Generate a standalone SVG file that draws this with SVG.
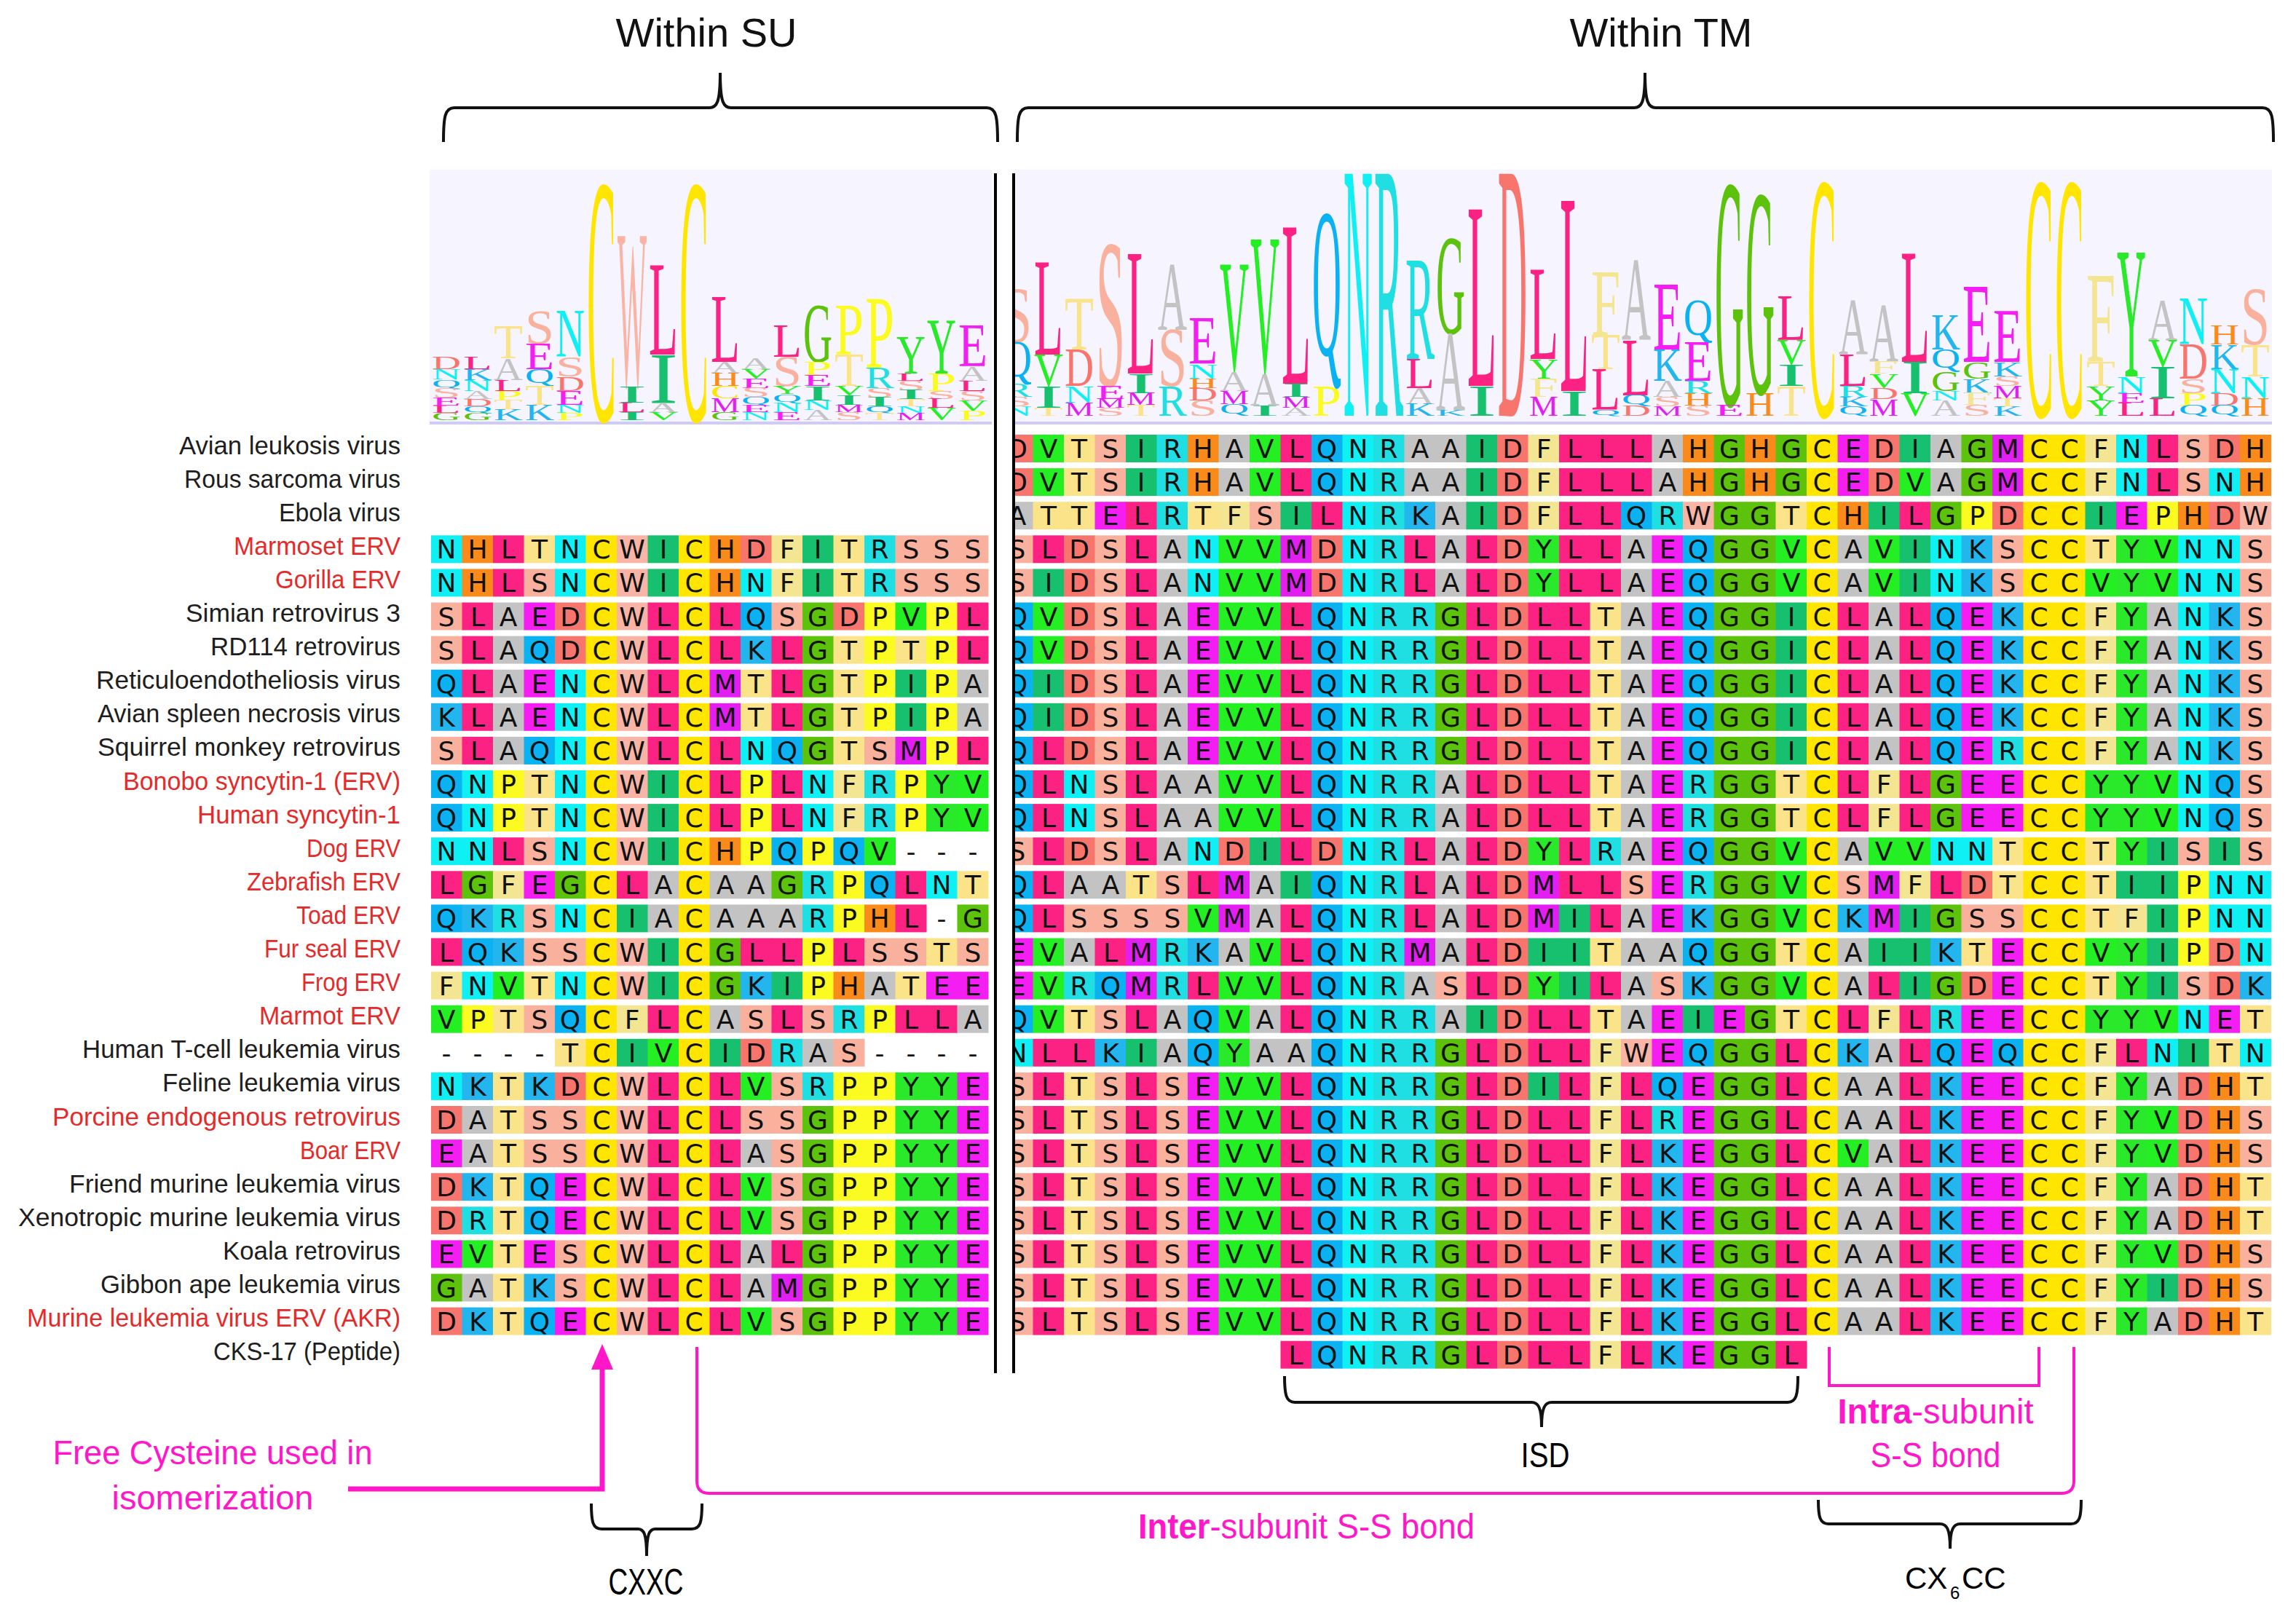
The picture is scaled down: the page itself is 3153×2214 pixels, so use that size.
<svg xmlns="http://www.w3.org/2000/svg" width="3153" height="2214" viewBox="0 0 3153 2214">
<style>
text{font-family:"Liberation Sans",Arial,sans-serif}
.lb{font-size:35px;fill:#1e1e1e;text-anchor:end}
.red{fill:#e52a2a}
.tt{font-size:56px;fill:#111;text-anchor:middle}
.sq{font-family:"DejaVu Sans","Open Sans",sans-serif;font-size:36px;fill:#111;text-anchor:middle}
.c rect{width:43px;height:38px}
.c rect:nth-of-type(2){x:42.5px}.c rect:nth-of-type(3){x:85px}.c rect:nth-of-type(4){x:127.5px}.c rect:nth-of-type(5){x:170px}
.c rect:nth-of-type(6){x:212.5px}.c rect:nth-of-type(7){x:255px}.c rect:nth-of-type(8){x:297.5px}.c rect:nth-of-type(9){x:340px}
.c rect:nth-of-type(10){x:382.5px}.c rect:nth-of-type(11){x:425px}.c rect:nth-of-type(12){x:467.5px}.c rect:nth-of-type(13){x:510px}
.c rect:nth-of-type(14){x:552.5px}.c rect:nth-of-type(15){x:595px}.c rect:nth-of-type(16){x:637.5px}.c rect:nth-of-type(17){x:680px}
.c rect:nth-of-type(18){x:722.5px}.c rect:nth-of-type(19){x:765px}.c rect:nth-of-type(20){x:807.5px}.c rect:nth-of-type(21){x:850px}
.c rect:nth-of-type(22){x:892.5px}.c rect:nth-of-type(23){x:935px}.c rect:nth-of-type(24){x:977.5px}.c rect:nth-of-type(25){x:1020px}
.c rect:nth-of-type(26){x:1062.5px}.c rect:nth-of-type(27){x:1105px}.c rect:nth-of-type(28){x:1147.5px}.c rect:nth-of-type(29){x:1190px}
.c rect:nth-of-type(30){x:1232.5px}.c rect:nth-of-type(31){x:1275px}.c rect:nth-of-type(32){x:1317.5px}.c rect:nth-of-type(33){x:1360px}
.c rect:nth-of-type(34){x:1402.5px}.c rect:nth-of-type(35){x:1445px}.c rect:nth-of-type(36){x:1487.5px}.c rect:nth-of-type(37){x:1530px}
.c rect:nth-of-type(38){x:1572.5px}.c rect:nth-of-type(39){x:1615px}.c rect:nth-of-type(40){x:1657.5px}.c rect:nth-of-type(41){x:1700px}
.A{fill:#c3c3c3}.C{fill:#ffe500}.D{fill:#f8756e}.E{fill:#f51ef2}.F{fill:#f3e592}.G{fill:#5cc20c}.H{fill:#fa8a1a}
.I{fill:#17c06f}.K{fill:#23b5ee}.L{fill:#fb2283}.M{fill:#e21ef0}.N{fill:#0ff0f4}.P{fill:#fbfb22}.Q{fill:#0bb2f2}
.R{fill:#20dfe2}.S{fill:#f9b19e}.T{fill:#fbe389}.V{fill:#23ef23}.W{fill:#f9b4a5}.Y{fill:#2ae82a}.z{fill:none}
.lg text{font-family:"Liberation Serif",serif;font-size:151px;text-anchor:middle}
.pk{fill:#ff17c9}
.br{fill:none;stroke:#111;stroke-width:4}
.pl{fill:none;stroke:#ff17c9}
</style>
<rect width="3153" height="2214" fill="#fff"/>
<g id="titles">
<text class="tt" x="970" y="64">Within SU</text>
<text class="tt" x="2281" y="64">Within TM</text>
</g>
<g id="logo-bg">
<rect x="590" y="233" width="772" height="347" fill="#f6f4fe"/>
<rect x="1393" y="233" width="1727" height="347" fill="#f6f4fe"/>
<rect x="590" y="579" width="772" height="4" fill="#cfcaf7"/>
<rect x="1393" y="579" width="1727" height="4" fill="#cfcaf7"/>
</g>
<g id="logo-su" class="lg">
<text class="D" transform="matrix(.367 0 0 .17 613 507)">D</text><text class="N" transform="matrix(.367 0 0 .14 613 521)">N</text><text class="Q" transform="matrix(.367 0 0 .1 613 532)">Q</text><text class="S" transform="matrix(.476 0 0 .12 613 546)">S</text><text class="E" transform="matrix(.433 0 0 .11 613 557)">E</text><text class="L" transform="matrix(.433 0 0 .1 613 567)">L</text><text class="G" transform="matrix(.367 0 0 .1 613 577)">G</text>
<text class="L" transform="matrix(.433 0 0 .17 656 507)">L</text><text class="K" transform="matrix(.367 0 0 .15 656 522)">K</text><text class="N" transform="matrix(.367 0 0 .15 656 537)">N</text><text class="A" transform="matrix(.367 0 0 .11 656 548)">A</text><text class="D" transform="matrix(.367 0 0 .1 656 558)">D</text><text class="Q" transform="matrix(.367 0 0 .08 656 566)">Q</text><text class="G" transform="matrix(.367 0 0 .09 656 577)">G</text>
<text class="T" transform="matrix(.433 0 0 .45 698 492)">T</text><text class="A" transform="matrix(.367 0 0 .3 698 522)">A</text><text class="L" transform="matrix(.433 0 0 .15 698 537)">L</text><text class="P" transform="matrix(.476 0 0 .13 698 550)">P</text><text class="T" transform="matrix(.433 0 0 .12 698 562)">T</text><text class="K" transform="matrix(.367 0 0 .15 698 577)">K</text>
<text class="S" transform="matrix(.476 0 0 .45 741 472)">S</text><text class="E" transform="matrix(.433 0 0 .35 741 507)">E</text><text class="Q" transform="matrix(.367 0 0 .19 741 526)">Q</text><text class="T" transform="matrix(.433 0 0 .26 741 556)">T</text><text class="K" transform="matrix(.367 0 0 .21 741 577)">K</text>
<text class="N" transform="matrix(.367 0 0 .63 783 490)">N</text><text class="S" transform="matrix(.476 0 0 .27 783 517)">S</text><text class="D" transform="matrix(.367 0 0 .2 783 537)">D</text><text class="E" transform="matrix(.433 0 0 .19 783 556)">E</text><text class="N" transform="matrix(.367 0 0 .11 783 567)">N</text><text class="P" transform="matrix(.476 0 0 .1 783 577)">P</text>
<text class="C" transform="matrix(.397 0 0 3.24 826 577)">C</text>
<text class="W" transform="matrix(.281 0 0 2.08 868 530)">W</text><text class="I" transform="matrix(.795 0 0 .23 868 553)">I</text><text class="L" transform="matrix(.433 0 0 .13 868 566)">L</text><text class="I" transform="matrix(.795 0 0 .11 868 577)">I</text>
<text class="L" transform="matrix(.433 0 0 1.24 911 487)">L</text><text class="I" transform="matrix(.795 0 0 .66 911 553)">I</text><text class="A" transform="matrix(.367 0 0 .13 911 566)">A</text><text class="V" transform="matrix(.367 0 0 .11 911 577)">V</text>
<text class="C" transform="matrix(.397 0 0 3.24 953 577)">C</text>
<text class="L" transform="matrix(.433 0 0 .9 996 497)">L</text><text class="A" transform="matrix(.367 0 0 .15 996 512)">A</text><text class="H" transform="matrix(.367 0 0 .18 996 530)">H</text><text class="C" transform="matrix(.397 0 0 .17 996 547)">C</text><text class="M" transform="matrix(.298 0 0 .19 996 566)">M</text><text class="G" transform="matrix(.367 0 0 .11 996 577)">G</text>
<text class="A" transform="matrix(.367 0 0 .15 1038 507)">A</text><text class="V" transform="matrix(.367 0 0 .13 1038 520)">V</text><text class="E" transform="matrix(.433 0 0 .13 1038 533)">E</text><text class="S" transform="matrix(.476 0 0 .12 1038 545)">S</text><text class="Q" transform="matrix(.367 0 0 .09 1038 555)">Q</text><text class="E" transform="matrix(.433 0 0 .1 1038 566)">E</text><text class="N" transform="matrix(.367 0 0 .11 1038 577)">N</text>
<text class="L" transform="matrix(.433 0 0 .43 1081 490)">L</text><text class="S" transform="matrix(.476 0 0 .4 1081 530)">S</text><text class="Y" transform="matrix(.367 0 0 .11 1081 541)">Y</text><text class="Q" transform="matrix(.367 0 0 .1 1081 552)">Q</text><text class="N" transform="matrix(.367 0 0 .13 1081 566)">N</text><text class="E" transform="matrix(.433 0 0 .11 1081 577)">E</text>
<text class="G" transform="matrix(.367 0 0 .77 1123 497)">G</text><text class="P" transform="matrix(.476 0 0 .18 1123 515)">P</text><text class="E" transform="matrix(.433 0 0 .15 1123 530)">E</text><text class="I" transform="matrix(.795 0 0 .2 1123 550)">I</text><text class="N" transform="matrix(.367 0 0 .13 1123 563)">N</text><text class="A" transform="matrix(.367 0 0 .14 1123 577)">A</text>
<text class="P" transform="matrix(.476 0 0 .67 1166 487)">P</text><text class="T" transform="matrix(.433 0 0 .43 1166 530)">T</text><text class="V" transform="matrix(.367 0 0 .13 1166 543)">V</text><text class="I" transform="matrix(.795 0 0 .13 1166 556)">I</text><text class="M" transform="matrix(.298 0 0 .1 1166 566)">M</text><text class="S" transform="matrix(.476 0 0 .11 1166 577)">S</text>
<text class="P" transform="matrix(.476 0 0 .95 1208 505)">P</text><text class="R" transform="matrix(.397 0 0 .28 1208 533)">R</text><text class="S" transform="matrix(.476 0 0 .13 1208 546)">S</text><text class="I" transform="matrix(.795 0 0 .12 1208 558)">I</text><text class="Q" transform="matrix(.367 0 0 .08 1208 566)">Q</text><text class="T" transform="matrix(.433 0 0 .09 1208 577)">T</text>
<text class="Y" transform="matrix(.367 0 0 .5 1251 513)">Y</text><text class="L" transform="matrix(.433 0 0 .1 1251 523)">L</text><text class="S" transform="matrix(.476 0 0 .13 1251 536)">S</text><text class="I" transform="matrix(.795 0 0 .12 1251 548)">I</text><text class="T" transform="matrix(.433 0 0 .1 1251 558)">T</text><text class="N" transform="matrix(.367 0 0 .1 1251 568)">N</text><text class="M" transform="matrix(.298 0 0 .09 1251 577)">M</text>
<text class="Y" transform="matrix(.367 0 0 .73 1293 513)">Y</text><text class="P" transform="matrix(.476 0 0 .24 1293 537)">P</text><text class="S" transform="matrix(.476 0 0 .11 1293 548)">S</text><text class="L" transform="matrix(.433 0 0 .12 1293 560)">L</text><text class="V" transform="matrix(.367 0 0 .17 1293 577)">V</text>
<text class="E" transform="matrix(.433 0 0 .56 1336 503)">E</text><text class="A" transform="matrix(.367 0 0 .2 1336 523)">A</text><text class="L" transform="matrix(.433 0 0 .14 1336 537)">L</text><text class="S" transform="matrix(.476 0 0 .13 1336 550)">S</text><text class="V" transform="matrix(.367 0 0 .15 1336 565)">V</text><text class="P" transform="matrix(.476 0 0 .12 1336 577)">P</text>
</g>
<g id="logo-tm" class="lg">
<text class="S" transform="matrix(.476 0 0 .73 1397 470)">S</text><text class="Q" transform="matrix(.367 0 0 .47 1397 517)">Q</text><text class="R" transform="matrix(.397 0 0 .18 1397 545)">R</text><text class="S" transform="matrix(.476 0 0 .13 1397 558)">S</text><text class="N" transform="matrix(.367 0 0 .13 1397 571)">N</text>
<text class="L" transform="matrix(.433 0 0 1.27 1440 487)">L</text><text class="V" transform="matrix(.367 0 0 .43 1440 530)">V</text><text class="I" transform="matrix(.795 0 0 .3 1440 560)">I</text><text class="T" transform="matrix(.433 0 0 .11 1440 571)">T</text>
<text class="T" transform="matrix(.433 0 0 .7 1482 480)">T</text><text class="D" transform="matrix(.367 0 0 .5 1482 530)">D</text><text class="N" transform="matrix(.367 0 0 .23 1482 553)">N</text><text class="M" transform="matrix(.298 0 0 .18 1482 571)">M</text>
<text class="S" transform="matrix(.476 0 0 1.95 1525 530)">S</text><text class="E" transform="matrix(.433 0 0 .18 1525 548)">E</text><text class="M" transform="matrix(.298 0 0 .12 1525 560)">M</text><text class="S" transform="matrix(.476 0 0 .11 1525 571)">S</text>
<text class="L" transform="matrix(.433 0 0 1.65 1567 513)">L</text><text class="I" transform="matrix(.795 0 0 .27 1567 540)">I</text><text class="M" transform="matrix(.298 0 0 .16 1567 556)">M</text><text class="T" transform="matrix(.433 0 0 .15 1567 571)">T</text>
<text class="A" transform="matrix(.367 0 0 .9 1610 453)">A</text><text class="S" transform="matrix(.476 0 0 .77 1610 530)">S</text><text class="R" transform="matrix(.397 0 0 .41 1610 571)">R</text>
<text class="E" transform="matrix(.433 0 0 .63 1652 500)">E</text><text class="N" transform="matrix(.367 0 0 .2 1652 520)">N</text><text class="H" transform="matrix(.367 0 0 .13 1652 533)">H</text><text class="D" transform="matrix(.367 0 0 .17 1652 550)">D</text><text class="S" transform="matrix(.476 0 0 .21 1652 571)">S</text>
<text class="V" transform="matrix(.367 0 0 1.47 1695 510)">V</text><text class="A" transform="matrix(.367 0 0 .27 1695 537)">A</text><text class="M" transform="matrix(.298 0 0 .18 1695 555)">M</text><text class="Q" transform="matrix(.367 0 0 .13 1695 568)">Q</text>
<text class="V" transform="matrix(.367 0 0 1.86 1737 513)">V</text><text class="A" transform="matrix(.367 0 0 .44 1737 557)">A</text><text class="I" transform="matrix(.795 0 0 .14 1737 571)">I</text>
<text class="L" transform="matrix(.433 0 0 2.17 1780 527)">L</text><text class="I" transform="matrix(.795 0 0 .18 1780 545)">I</text><text class="M" transform="matrix(.298 0 0 .15 1780 560)">M</text><text class="A" transform="matrix(.367 0 0 .11 1780 571)">A</text>
<text class="Q" transform="matrix(.367 0 0 1.94 1822 487)">Q</text><text class="P" transform="matrix(.476 0 0 .41 1822 571)">P</text>
<text class="N" transform="matrix(.367 0 0 3.36 1865 571)">N</text>
<text class="R" transform="matrix(.397 0 0 3.36 1907 571)">R</text>
<text class="R" transform="matrix(.397 0 0 1.36 1950 493)">R</text><text class="L" transform="matrix(.433 0 0 .4 1950 533)">L</text><text class="A" transform="matrix(.367 0 0 .22 1950 555)">A</text><text class="K" transform="matrix(.367 0 0 .16 1950 571)">K</text>
<text class="G" transform="matrix(.367 0 0 1.3 1992 458)">G</text><text class="A" transform="matrix(.367 0 0 1.05 1992 563)">A</text><text class="K" transform="matrix(.367 0 0 .08 1992 571)">K</text>
<text class="L" transform="matrix(.433 0 0 2.45 2035 530)">L</text><text class="I" transform="matrix(.795 0 0 .41 2035 571)">I</text>
<text class="D" transform="matrix(.367 0 0 3.36 2077 571)">D</text>
<text class="L" transform="matrix(.433 0 0 1.23 2120 493)">L</text><text class="Y" transform="matrix(.367 0 0 .27 2120 520)">Y</text><text class="F" transform="matrix(.476 0 0 .25 2120 545)">F</text><text class="M" transform="matrix(.298 0 0 .26 2120 571)">M</text>
<text class="L" transform="matrix(.433 0 0 2.64 2162 537)">L</text><text class="I" transform="matrix(.795 0 0 .34 2162 571)">I</text>
<text class="F" transform="matrix(.476 0 0 .87 2205 460)">F</text><text class="T" transform="matrix(.433 0 0 .47 2205 507)">T</text><text class="L" transform="matrix(.433 0 0 .56 2205 563)">L</text><text class="Q" transform="matrix(.367 0 0 .07 2205 570)">Q</text>
<text class="A" transform="matrix(.367 0 0 1.1 2247 467)">A</text><text class="L" transform="matrix(.433 0 0 .76 2247 543)">L</text><text class="Q" transform="matrix(.367 0 0 .12 2247 555)">Q</text><text class="D" transform="matrix(.367 0 0 .14 2247 571)">D</text>
<text class="E" transform="matrix(.433 0 0 .9 2290 480)">E</text><text class="K" transform="matrix(.367 0 0 .43 2290 523)">K</text><text class="A" transform="matrix(.367 0 0 .22 2290 545)">A</text><text class="S" transform="matrix(.476 0 0 .13 2290 558)">S</text><text class="M" transform="matrix(.298 0 0 .13 2290 571)">M</text>
<text class="Q" transform="matrix(.367 0 0 .47 2332 460)">Q</text><text class="E" transform="matrix(.433 0 0 .53 2332 523)">E</text><text class="R" transform="matrix(.397 0 0 .17 2332 540)">R</text><text class="H" transform="matrix(.367 0 0 .17 2332 557)">H</text><text class="S" transform="matrix(.476 0 0 .14 2332 571)">S</text>
<text class="G" transform="matrix(.367 0 0 3.03 2375 556)">G</text><text class="E" transform="matrix(.433 0 0 .15 2375 571)">E</text>
<text class="G" transform="matrix(.367 0 0 2.73 2417 540)">G</text><text class="H" transform="matrix(.367 0 0 .31 2417 571)">H</text>
<text class="L" transform="matrix(.433 0 0 .6 2460 467)">L</text><text class="V" transform="matrix(.367 0 0 .33 2460 500)">V</text><text class="I" transform="matrix(.795 0 0 .3 2460 530)">I</text><text class="T" transform="matrix(.433 0 0 .41 2460 571)">T</text>
<text class="C" transform="matrix(.397 0 0 3.21 2502 571)">C</text>
<text class="A" transform="matrix(.367 0 0 .74 2545 487)">A</text><text class="L" transform="matrix(.433 0 0 .43 2545 530)">L</text><text class="R" transform="matrix(.397 0 0 .15 2545 545)">R</text><text class="K" transform="matrix(.367 0 0 .13 2545 558)">K</text><text class="Q" transform="matrix(.367 0 0 .11 2545 569)">Q</text>
<text class="A" transform="matrix(.367 0 0 .77 2587 497)">A</text><text class="F" transform="matrix(.476 0 0 .16 2587 513)">F</text><text class="V" transform="matrix(.367 0 0 .2 2587 533)">V</text><text class="D" transform="matrix(.367 0 0 .15 2587 548)">D</text><text class="M" transform="matrix(.298 0 0 .23 2587 571)">M</text>
<text class="L" transform="matrix(.433 0 0 1.5 2630 497)">L</text><text class="I" transform="matrix(.795 0 0 .43 2630 540)">I</text><text class="V" transform="matrix(.367 0 0 .31 2630 571)">V</text>
<text class="K" transform="matrix(.367 0 0 .47 2672 480)">K</text><text class="Q" transform="matrix(.367 0 0 .25 2672 505)">Q</text><text class="G" transform="matrix(.367 0 0 .27 2672 537)">G</text><text class="N" transform="matrix(.367 0 0 .13 2672 550)">N</text><text class="A" transform="matrix(.367 0 0 .21 2672 571)">A</text>
<text class="E" transform="matrix(.433 0 0 1.04 2715 497)">E</text><text class="G" transform="matrix(.367 0 0 .23 2715 520)">G</text><text class="K" transform="matrix(.367 0 0 .2 2715 540)">K</text><text class="F" transform="matrix(.476 0 0 .16 2715 556)">F</text><text class="S" transform="matrix(.476 0 0 .15 2715 571)">S</text>
<text class="E" transform="matrix(.433 0 0 .7 2757 497)">E</text><text class="K" transform="matrix(.367 0 0 .2 2757 517)">K</text><text class="S" transform="matrix(.476 0 0 .13 2757 530)">S</text><text class="M" transform="matrix(.298 0 0 .17 2757 547)">M</text><text class="T" transform="matrix(.433 0 0 .11 2757 558)">T</text><text class="K" transform="matrix(.367 0 0 .13 2757 571)">K</text>
<text class="C" transform="matrix(.397 0 0 3.21 2800 571)">C</text>
<text class="C" transform="matrix(.397 0 0 3.21 2842 571)">C</text>
<text class="F" transform="matrix(.476 0 0 1.2 2885 497)">F</text><text class="T" transform="matrix(.433 0 0 .33 2885 530)">T</text><text class="Y" transform="matrix(.367 0 0 .2 2885 550)">Y</text><text class="Y" transform="matrix(.367 0 0 .21 2885 571)">Y</text>
<text class="Y" transform="matrix(.367 0 0 1.72 2927 517)">Y</text><text class="N" transform="matrix(.367 0 0 .23 2927 540)">N</text><text class="E" transform="matrix(.433 0 0 .13 2927 553)">E</text><text class="L" transform="matrix(.433 0 0 .18 2927 571)">L</text>
<text class="A" transform="matrix(.367 0 0 .54 2970 467)">A</text><text class="V" transform="matrix(.367 0 0 .36 2970 503)">V</text><text class="I" transform="matrix(.795 0 0 .44 2970 547)">I</text><text class="L" transform="matrix(.433 0 0 .24 2970 571)">L</text>
<text class="N" transform="matrix(.367 0 0 .63 3012 473)">N</text><text class="D" transform="matrix(.367 0 0 .47 3012 520)">D</text><text class="S" transform="matrix(.476 0 0 .2 3012 540)">S</text><text class="P" transform="matrix(.476 0 0 .17 3012 557)">P</text><text class="Q" transform="matrix(.367 0 0 .12 3012 569)">Q</text>
<text class="H" transform="matrix(.367 0 0 .26 3055 473)">H</text><text class="K" transform="matrix(.367 0 0 .34 3055 507)">K</text><text class="N" transform="matrix(.367 0 0 .33 3055 540)">N</text><text class="D" transform="matrix(.367 0 0 .17 3055 557)">D</text><text class="Q" transform="matrix(.367 0 0 .12 3055 569)">Q</text>
<text class="S" transform="matrix(.476 0 0 .76 3097 473)">S</text><text class="T" transform="matrix(.433 0 0 .44 3097 517)">T</text><text class="N" transform="matrix(.367 0 0 .3 3097 547)">N</text><text class="H" transform="matrix(.367 0 0 .24 3097 571)">H</text>
</g>
<g id="alignment">
<g id="r0"><text class="lb" x="550" y="623.5" textLength="304" lengthAdjust="spacingAndGlyphs">Avian leukosis virus</text><g class="c" id="t0" transform="translate(1376,597)"><rect class="D"/><rect class="V"/><rect class="T"/><rect class="S"/><rect class="I"/><rect class="R"/><rect class="H"/><rect class="A"/><rect class="V"/><rect class="L"/><rect class="Q"/><rect class="N"/><rect class="R"/><rect class="A"/><rect class="A"/><rect class="I"/><rect class="D"/><rect class="F"/><rect class="L"/><rect class="L"/><rect class="L"/><rect class="A"/><rect class="H"/><rect class="G"/><rect class="H"/><rect class="G"/><rect class="C"/><rect class="E"/><rect class="D"/><rect class="I"/><rect class="A"/><rect class="G"/><rect class="M"/><rect class="C"/><rect class="C"/><rect class="F"/><rect class="N"/><rect class="L"/><rect class="S"/><rect class="D"/><rect class="H"/><text class="sq" y="32" x="21 64 106 149 191 234 276 319 361 404 446 489 531 574 616 659 701 744 786 829 871 914 956 999 1041 1084 1126 1169 1211 1254 1296 1339 1381 1424 1466 1509 1551 1594 1636 1679 1721">DVTSIRHAVLQNRAAIDFLLLAHGHGCEDIAGMCCFNLSDH</text></g></g>
<g id="r1"><text class="lb" x="550" y="669.6" textLength="297" lengthAdjust="spacingAndGlyphs">Rous sarcoma virus</text><g class="c" id="t1" transform="translate(1376,643.1)"><rect class="D"/><rect class="V"/><rect class="T"/><rect class="S"/><rect class="I"/><rect class="R"/><rect class="H"/><rect class="A"/><rect class="V"/><rect class="L"/><rect class="Q"/><rect class="N"/><rect class="R"/><rect class="A"/><rect class="A"/><rect class="I"/><rect class="D"/><rect class="F"/><rect class="L"/><rect class="L"/><rect class="L"/><rect class="A"/><rect class="H"/><rect class="G"/><rect class="H"/><rect class="G"/><rect class="C"/><rect class="E"/><rect class="D"/><rect class="V"/><rect class="A"/><rect class="G"/><rect class="M"/><rect class="C"/><rect class="C"/><rect class="F"/><rect class="N"/><rect class="L"/><rect class="S"/><rect class="N"/><rect class="H"/><text class="sq" y="32" x="21 64 106 149 191 234 276 319 361 404 446 489 531 574 616 659 701 744 786 829 871 914 956 999 1041 1084 1126 1169 1211 1254 1296 1339 1381 1424 1466 1509 1551 1594 1636 1679 1721">DVTSIRHAVLQNRAAIDFLLLAHGHGCEDVAGMCCFNLSNH</text></g></g>
<g id="r2"><text class="lb" x="550" y="715.7" textLength="167" lengthAdjust="spacingAndGlyphs">Ebola virus</text><g class="c" id="t2" transform="translate(1376,689.2)"><rect class="A"/><rect class="T"/><rect class="T"/><rect class="E"/><rect class="L"/><rect class="R"/><rect class="T"/><rect class="F"/><rect class="S"/><rect class="I"/><rect class="L"/><rect class="N"/><rect class="R"/><rect class="K"/><rect class="A"/><rect class="I"/><rect class="D"/><rect class="F"/><rect class="L"/><rect class="L"/><rect class="Q"/><rect class="R"/><rect class="W"/><rect class="G"/><rect class="G"/><rect class="T"/><rect class="C"/><rect class="H"/><rect class="I"/><rect class="L"/><rect class="G"/><rect class="P"/><rect class="D"/><rect class="C"/><rect class="C"/><rect class="I"/><rect class="E"/><rect class="P"/><rect class="H"/><rect class="D"/><rect class="W"/><text class="sq" y="32" x="21 64 106 149 191 234 276 319 361 404 446 489 531 574 616 659 701 744 786 829 871 914 956 999 1041 1084 1126 1169 1211 1254 1296 1339 1381 1424 1466 1509 1551 1594 1636 1679 1721">ATTELRTFSILNRKAIDFLLQRWGGTCHILGPDCCIEPHDW</text></g></g>
<g id="r3"><text class="lb red" x="550" y="761.8" textLength="229" lengthAdjust="spacingAndGlyphs">Marmoset ERV</text><g class="c" id="s3" transform="translate(592,735.3)"><rect class="N"/><rect class="H"/><rect class="L"/><rect class="T"/><rect class="N"/><rect class="C"/><rect class="W"/><rect class="I"/><rect class="C"/><rect class="H"/><rect class="D"/><rect class="F"/><rect class="I"/><rect class="T"/><rect class="R"/><rect class="S"/><rect class="S"/><rect class="S"/><text class="sq" y="32" x="21 64 106 149 191 234 276 319 361 404 446 489 531 574 616 659 701 744">NHLTNCWICHDFITRSSS</text></g><g class="c" id="t3" transform="translate(1376,735.3)"><rect class="S"/><rect class="L"/><rect class="D"/><rect class="S"/><rect class="L"/><rect class="A"/><rect class="N"/><rect class="V"/><rect class="V"/><rect class="M"/><rect class="D"/><rect class="N"/><rect class="R"/><rect class="L"/><rect class="A"/><rect class="L"/><rect class="D"/><rect class="Y"/><rect class="L"/><rect class="L"/><rect class="A"/><rect class="E"/><rect class="Q"/><rect class="G"/><rect class="G"/><rect class="V"/><rect class="C"/><rect class="A"/><rect class="V"/><rect class="I"/><rect class="N"/><rect class="K"/><rect class="S"/><rect class="C"/><rect class="C"/><rect class="T"/><rect class="Y"/><rect class="V"/><rect class="N"/><rect class="N"/><rect class="S"/><text class="sq" y="32" x="21 64 106 149 191 234 276 319 361 404 446 489 531 574 616 659 701 744 786 829 871 914 956 999 1041 1084 1126 1169 1211 1254 1296 1339 1381 1424 1466 1509 1551 1594 1636 1679 1721">SLDSLANVVMDNRLALDYLLAEQGGVCAVINKSCCTYVNNS</text></g></g>
<g id="r4"><text class="lb red" x="550" y="807.9" textLength="172" lengthAdjust="spacingAndGlyphs">Gorilla ERV</text><g class="c" id="s4" transform="translate(592,781.4)"><rect class="N"/><rect class="H"/><rect class="L"/><rect class="S"/><rect class="N"/><rect class="C"/><rect class="W"/><rect class="I"/><rect class="C"/><rect class="H"/><rect class="N"/><rect class="F"/><rect class="I"/><rect class="T"/><rect class="R"/><rect class="S"/><rect class="S"/><rect class="S"/><text class="sq" y="32" x="21 64 106 149 191 234 276 319 361 404 446 489 531 574 616 659 701 744">NHLSNCWICHNFITRSSS</text></g><g class="c" id="t4" transform="translate(1376,781.4)"><rect class="S"/><rect class="I"/><rect class="D"/><rect class="S"/><rect class="L"/><rect class="A"/><rect class="N"/><rect class="V"/><rect class="V"/><rect class="M"/><rect class="D"/><rect class="N"/><rect class="R"/><rect class="L"/><rect class="A"/><rect class="L"/><rect class="D"/><rect class="Y"/><rect class="L"/><rect class="L"/><rect class="A"/><rect class="E"/><rect class="Q"/><rect class="G"/><rect class="G"/><rect class="V"/><rect class="C"/><rect class="A"/><rect class="V"/><rect class="I"/><rect class="N"/><rect class="K"/><rect class="S"/><rect class="C"/><rect class="C"/><rect class="V"/><rect class="Y"/><rect class="V"/><rect class="N"/><rect class="N"/><rect class="S"/><text class="sq" y="32" x="21 64 106 149 191 234 276 319 361 404 446 489 531 574 616 659 701 744 786 829 871 914 956 999 1041 1084 1126 1169 1211 1254 1296 1339 1381 1424 1466 1509 1551 1594 1636 1679 1721">SIDSLANVVMDNRLALDYLLAEQGGVCAVINKSCCVYVNNS</text></g></g>
<g id="r5"><text class="lb" x="550" y="854" textLength="295" lengthAdjust="spacingAndGlyphs">Simian retrovirus 3</text><g class="c" id="s5" transform="translate(592,827.5)"><rect class="S"/><rect class="L"/><rect class="A"/><rect class="E"/><rect class="D"/><rect class="C"/><rect class="W"/><rect class="L"/><rect class="C"/><rect class="L"/><rect class="Q"/><rect class="S"/><rect class="G"/><rect class="D"/><rect class="P"/><rect class="V"/><rect class="P"/><rect class="L"/><text class="sq" y="32" x="21 64 106 149 191 234 276 319 361 404 446 489 531 574 616 659 701 744">SLAEDCWLCLQSGDPVPL</text></g><g class="c" id="t5" transform="translate(1376,827.5)"><rect class="Q"/><rect class="V"/><rect class="D"/><rect class="S"/><rect class="L"/><rect class="A"/><rect class="E"/><rect class="V"/><rect class="V"/><rect class="L"/><rect class="Q"/><rect class="N"/><rect class="R"/><rect class="R"/><rect class="G"/><rect class="L"/><rect class="D"/><rect class="L"/><rect class="L"/><rect class="T"/><rect class="A"/><rect class="E"/><rect class="Q"/><rect class="G"/><rect class="G"/><rect class="I"/><rect class="C"/><rect class="L"/><rect class="A"/><rect class="L"/><rect class="Q"/><rect class="E"/><rect class="K"/><rect class="C"/><rect class="C"/><rect class="F"/><rect class="Y"/><rect class="A"/><rect class="N"/><rect class="K"/><rect class="S"/><text class="sq" y="32" x="21 64 106 149 191 234 276 319 361 404 446 489 531 574 616 659 701 744 786 829 871 914 956 999 1041 1084 1126 1169 1211 1254 1296 1339 1381 1424 1466 1509 1551 1594 1636 1679 1721">QVDSLAEVVLQNRRGLDLLTAEQGGICLALQEKCCFYANKS</text></g></g>
<g id="r6"><text class="lb" x="550" y="900.1" textLength="261" lengthAdjust="spacingAndGlyphs">RD114 retrovirus</text><g class="c" id="s6" transform="translate(592,873.6)"><rect class="S"/><rect class="L"/><rect class="A"/><rect class="Q"/><rect class="D"/><rect class="C"/><rect class="W"/><rect class="L"/><rect class="C"/><rect class="L"/><rect class="K"/><rect class="L"/><rect class="G"/><rect class="T"/><rect class="P"/><rect class="T"/><rect class="P"/><rect class="L"/><text class="sq" y="32" x="21 64 106 149 191 234 276 319 361 404 446 489 531 574 616 659 701 744">SLAQDCWLCLKLGTPTPL</text></g><use href="#t5" y="46.1"/></g>
<g id="r7"><text class="lb" x="550" y="946.2" textLength="418" lengthAdjust="spacingAndGlyphs">Reticuloendotheliosis virus</text><g class="c" id="s7" transform="translate(592,919.7)"><rect class="Q"/><rect class="L"/><rect class="A"/><rect class="E"/><rect class="N"/><rect class="C"/><rect class="W"/><rect class="L"/><rect class="C"/><rect class="M"/><rect class="T"/><rect class="L"/><rect class="G"/><rect class="T"/><rect class="P"/><rect class="I"/><rect class="P"/><rect class="A"/><text class="sq" y="32" x="21 64 106 149 191 234 276 319 361 404 446 489 531 574 616 659 701 744">QLAENCWLCMTLGTPIPA</text></g><g class="c" id="t7" transform="translate(1376,919.7)"><rect class="Q"/><rect class="I"/><rect class="D"/><rect class="S"/><rect class="L"/><rect class="A"/><rect class="E"/><rect class="V"/><rect class="V"/><rect class="L"/><rect class="Q"/><rect class="N"/><rect class="R"/><rect class="R"/><rect class="G"/><rect class="L"/><rect class="D"/><rect class="L"/><rect class="L"/><rect class="T"/><rect class="A"/><rect class="E"/><rect class="Q"/><rect class="G"/><rect class="G"/><rect class="I"/><rect class="C"/><rect class="L"/><rect class="A"/><rect class="L"/><rect class="Q"/><rect class="E"/><rect class="K"/><rect class="C"/><rect class="C"/><rect class="F"/><rect class="Y"/><rect class="A"/><rect class="N"/><rect class="K"/><rect class="S"/><text class="sq" y="32" x="21 64 106 149 191 234 276 319 361 404 446 489 531 574 616 659 701 744 786 829 871 914 956 999 1041 1084 1126 1169 1211 1254 1296 1339 1381 1424 1466 1509 1551 1594 1636 1679 1721">QIDSLAEVVLQNRRGLDLLTAEQGGICLALQEKCCFYANKS</text></g></g>
<g id="r8"><text class="lb" x="550" y="992.3" textLength="416" lengthAdjust="spacingAndGlyphs">Avian spleen necrosis virus</text><g class="c" id="s8" transform="translate(592,965.8)"><rect class="K"/><rect class="L"/><rect class="A"/><rect class="E"/><rect class="N"/><rect class="C"/><rect class="W"/><rect class="L"/><rect class="C"/><rect class="M"/><rect class="T"/><rect class="L"/><rect class="G"/><rect class="T"/><rect class="P"/><rect class="I"/><rect class="P"/><rect class="A"/><text class="sq" y="32" x="21 64 106 149 191 234 276 319 361 404 446 489 531 574 616 659 701 744">KLAENCWLCMTLGTPIPA</text></g><use href="#t7" y="46.1"/></g>
<g id="r9"><text class="lb" x="550" y="1038.4" textLength="416" lengthAdjust="spacingAndGlyphs">Squirrel monkey retrovirus</text><g class="c" id="s9" transform="translate(592,1011.9)"><rect class="S"/><rect class="L"/><rect class="A"/><rect class="Q"/><rect class="N"/><rect class="C"/><rect class="W"/><rect class="L"/><rect class="C"/><rect class="L"/><rect class="N"/><rect class="Q"/><rect class="G"/><rect class="T"/><rect class="S"/><rect class="M"/><rect class="P"/><rect class="L"/><text class="sq" y="32" x="21 64 106 149 191 234 276 319 361 404 446 489 531 574 616 659 701 744">SLAQNCWLCLNQGTSMPL</text></g><g class="c" id="t9" transform="translate(1376,1011.9)"><rect class="Q"/><rect class="L"/><rect class="D"/><rect class="S"/><rect class="L"/><rect class="A"/><rect class="E"/><rect class="V"/><rect class="V"/><rect class="L"/><rect class="Q"/><rect class="N"/><rect class="R"/><rect class="R"/><rect class="G"/><rect class="L"/><rect class="D"/><rect class="L"/><rect class="L"/><rect class="T"/><rect class="A"/><rect class="E"/><rect class="Q"/><rect class="G"/><rect class="G"/><rect class="I"/><rect class="C"/><rect class="L"/><rect class="A"/><rect class="L"/><rect class="Q"/><rect class="E"/><rect class="R"/><rect class="C"/><rect class="C"/><rect class="F"/><rect class="Y"/><rect class="A"/><rect class="N"/><rect class="K"/><rect class="S"/><text class="sq" y="32" x="21 64 106 149 191 234 276 319 361 404 446 489 531 574 616 659 701 744 786 829 871 914 956 999 1041 1084 1126 1169 1211 1254 1296 1339 1381 1424 1466 1509 1551 1594 1636 1679 1721">QLDSLAEVVLQNRRGLDLLTAEQGGICLALQERCCFYANKS</text></g></g>
<g id="r10"><text class="lb red" x="550" y="1084.5" textLength="381" lengthAdjust="spacingAndGlyphs">Bonobo syncytin-1 (ERV)</text><g class="c" id="s10" transform="translate(592,1058)"><rect class="Q"/><rect class="N"/><rect class="P"/><rect class="T"/><rect class="N"/><rect class="C"/><rect class="W"/><rect class="I"/><rect class="C"/><rect class="L"/><rect class="P"/><rect class="L"/><rect class="N"/><rect class="F"/><rect class="R"/><rect class="P"/><rect class="Y"/><rect class="V"/><text class="sq" y="32" x="21 64 106 149 191 234 276 319 361 404 446 489 531 574 616 659 701 744">QNPTNCWICLPLNFRPYV</text></g><g class="c" id="t10" transform="translate(1376,1058)"><rect class="Q"/><rect class="L"/><rect class="N"/><rect class="S"/><rect class="L"/><rect class="A"/><rect class="A"/><rect class="V"/><rect class="V"/><rect class="L"/><rect class="Q"/><rect class="N"/><rect class="R"/><rect class="R"/><rect class="A"/><rect class="L"/><rect class="D"/><rect class="L"/><rect class="L"/><rect class="T"/><rect class="A"/><rect class="E"/><rect class="R"/><rect class="G"/><rect class="G"/><rect class="T"/><rect class="C"/><rect class="L"/><rect class="F"/><rect class="L"/><rect class="G"/><rect class="E"/><rect class="E"/><rect class="C"/><rect class="C"/><rect class="Y"/><rect class="Y"/><rect class="V"/><rect class="N"/><rect class="Q"/><rect class="S"/><text class="sq" y="32" x="21 64 106 149 191 234 276 319 361 404 446 489 531 574 616 659 701 744 786 829 871 914 956 999 1041 1084 1126 1169 1211 1254 1296 1339 1381 1424 1466 1509 1551 1594 1636 1679 1721">QLNSLAAVVLQNRRALDLLTAERGGTCLFLGEECCYYVNQS</text></g></g>
<g id="r11"><text class="lb red" x="550" y="1130.6" textLength="279" lengthAdjust="spacingAndGlyphs">Human syncytin-1</text><use href="#s10" y="46.1"/><use href="#t10" y="46.1"/></g>
<g id="r12"><text class="lb red" x="550" y="1176.7" textLength="129" lengthAdjust="spacingAndGlyphs">Dog ERV</text><g class="c" id="s12" transform="translate(592,1150.2)"><rect class="N"/><rect class="N"/><rect class="L"/><rect class="S"/><rect class="N"/><rect class="C"/><rect class="W"/><rect class="I"/><rect class="C"/><rect class="H"/><rect class="P"/><rect class="Q"/><rect class="P"/><rect class="Q"/><rect class="V"/><text class="sq" y="32" x="21 64 106 149 191 234 276 319 361 404 446 489 531 574 616 659 701 744">NNLSNCWICHPQPQV---</text></g><g class="c" id="t12" transform="translate(1376,1150.2)"><rect class="S"/><rect class="L"/><rect class="D"/><rect class="S"/><rect class="L"/><rect class="A"/><rect class="N"/><rect class="D"/><rect class="I"/><rect class="L"/><rect class="D"/><rect class="N"/><rect class="R"/><rect class="L"/><rect class="A"/><rect class="L"/><rect class="D"/><rect class="Y"/><rect class="L"/><rect class="R"/><rect class="A"/><rect class="E"/><rect class="Q"/><rect class="G"/><rect class="G"/><rect class="V"/><rect class="C"/><rect class="A"/><rect class="V"/><rect class="V"/><rect class="N"/><rect class="N"/><rect class="T"/><rect class="C"/><rect class="C"/><rect class="T"/><rect class="Y"/><rect class="I"/><rect class="S"/><rect class="I"/><rect class="S"/><text class="sq" y="32" x="21 64 106 149 191 234 276 319 361 404 446 489 531 574 616 659 701 744 786 829 871 914 956 999 1041 1084 1126 1169 1211 1254 1296 1339 1381 1424 1466 1509 1551 1594 1636 1679 1721">SLDSLANDILDNRLALDYLRAEQGGVCAVVNNTCCTYISIS</text></g></g>
<g id="r13"><text class="lb red" x="550" y="1222.8" textLength="211" lengthAdjust="spacingAndGlyphs">Zebrafish ERV</text><g class="c" id="s13" transform="translate(592,1196.3)"><rect class="L"/><rect class="G"/><rect class="F"/><rect class="E"/><rect class="G"/><rect class="C"/><rect class="L"/><rect class="A"/><rect class="C"/><rect class="A"/><rect class="A"/><rect class="G"/><rect class="R"/><rect class="P"/><rect class="Q"/><rect class="L"/><rect class="N"/><rect class="T"/><text class="sq" y="32" x="21 64 106 149 191 234 276 319 361 404 446 489 531 574 616 659 701 744">LGFEGCLACAAGRPQLNT</text></g><g class="c" id="t13" transform="translate(1376,1196.3)"><rect class="Q"/><rect class="L"/><rect class="A"/><rect class="A"/><rect class="T"/><rect class="S"/><rect class="L"/><rect class="M"/><rect class="A"/><rect class="I"/><rect class="Q"/><rect class="N"/><rect class="R"/><rect class="L"/><rect class="A"/><rect class="L"/><rect class="D"/><rect class="M"/><rect class="L"/><rect class="L"/><rect class="S"/><rect class="E"/><rect class="R"/><rect class="G"/><rect class="G"/><rect class="V"/><rect class="C"/><rect class="S"/><rect class="M"/><rect class="F"/><rect class="L"/><rect class="D"/><rect class="T"/><rect class="C"/><rect class="C"/><rect class="T"/><rect class="I"/><rect class="I"/><rect class="P"/><rect class="N"/><rect class="N"/><text class="sq" y="32" x="21 64 106 149 191 234 276 319 361 404 446 489 531 574 616 659 701 744 786 829 871 914 956 999 1041 1084 1126 1169 1211 1254 1296 1339 1381 1424 1466 1509 1551 1594 1636 1679 1721">QLAATSLMAIQNRLALDMLLSERGGVCSMFLDTCCTIIPNN</text></g></g>
<g id="r14"><text class="lb red" x="550" y="1268.9" textLength="143" lengthAdjust="spacingAndGlyphs">Toad ERV</text><g class="c" id="s14" transform="translate(592,1242.4)"><rect class="Q"/><rect class="K"/><rect class="R"/><rect class="S"/><rect class="N"/><rect class="C"/><rect class="I"/><rect class="A"/><rect class="C"/><rect class="A"/><rect class="A"/><rect class="A"/><rect class="R"/><rect class="P"/><rect class="H"/><rect class="L"/><rect class="z"/><rect class="G"/><text class="sq" y="32" x="21 64 106 149 191 234 276 319 361 404 446 489 531 574 616 659 701 744">QKRSNCIACAAARPHL-G</text></g><g class="c" id="t14" transform="translate(1376,1242.4)"><rect class="Q"/><rect class="L"/><rect class="S"/><rect class="S"/><rect class="S"/><rect class="S"/><rect class="V"/><rect class="M"/><rect class="A"/><rect class="L"/><rect class="Q"/><rect class="N"/><rect class="R"/><rect class="L"/><rect class="A"/><rect class="L"/><rect class="D"/><rect class="M"/><rect class="I"/><rect class="L"/><rect class="A"/><rect class="E"/><rect class="K"/><rect class="G"/><rect class="G"/><rect class="V"/><rect class="C"/><rect class="K"/><rect class="M"/><rect class="I"/><rect class="G"/><rect class="S"/><rect class="S"/><rect class="C"/><rect class="C"/><rect class="T"/><rect class="F"/><rect class="I"/><rect class="P"/><rect class="N"/><rect class="N"/><text class="sq" y="32" x="21 64 106 149 191 234 276 319 361 404 446 489 531 574 616 659 701 744 786 829 871 914 956 999 1041 1084 1126 1169 1211 1254 1296 1339 1381 1424 1466 1509 1551 1594 1636 1679 1721">QLSSSSVMALQNRLALDMILAEKGGVCKMIGSSCCTFIPNN</text></g></g>
<g id="r15"><text class="lb red" x="550" y="1315" textLength="187" lengthAdjust="spacingAndGlyphs">Fur seal ERV</text><g class="c" id="s15" transform="translate(592,1288.5)"><rect class="L"/><rect class="Q"/><rect class="K"/><rect class="S"/><rect class="S"/><rect class="C"/><rect class="W"/><rect class="I"/><rect class="C"/><rect class="G"/><rect class="L"/><rect class="L"/><rect class="P"/><rect class="L"/><rect class="S"/><rect class="S"/><rect class="T"/><rect class="S"/><text class="sq" y="32" x="21 64 106 149 191 234 276 319 361 404 446 489 531 574 616 659 701 744">LQKSSCWICGLLPLSSTS</text></g><g class="c" id="t15" transform="translate(1376,1288.5)"><rect class="E"/><rect class="V"/><rect class="A"/><rect class="L"/><rect class="M"/><rect class="R"/><rect class="K"/><rect class="A"/><rect class="V"/><rect class="L"/><rect class="Q"/><rect class="N"/><rect class="R"/><rect class="M"/><rect class="A"/><rect class="L"/><rect class="D"/><rect class="I"/><rect class="I"/><rect class="T"/><rect class="A"/><rect class="A"/><rect class="Q"/><rect class="G"/><rect class="G"/><rect class="T"/><rect class="C"/><rect class="A"/><rect class="I"/><rect class="I"/><rect class="K"/><rect class="T"/><rect class="E"/><rect class="C"/><rect class="C"/><rect class="V"/><rect class="Y"/><rect class="I"/><rect class="P"/><rect class="D"/><rect class="N"/><text class="sq" y="32" x="21 64 106 149 191 234 276 319 361 404 446 489 531 574 616 659 701 744 786 829 871 914 956 999 1041 1084 1126 1169 1211 1254 1296 1339 1381 1424 1466 1509 1551 1594 1636 1679 1721">EVALMRKAVLQNRMALDIITAAQGGTCAIIKTECCVYIPDN</text></g></g>
<g id="r16"><text class="lb red" x="550" y="1361.1" textLength="136" lengthAdjust="spacingAndGlyphs">Frog ERV</text><g class="c" id="s16" transform="translate(592,1334.6)"><rect class="F"/><rect class="N"/><rect class="V"/><rect class="T"/><rect class="N"/><rect class="C"/><rect class="W"/><rect class="I"/><rect class="C"/><rect class="G"/><rect class="K"/><rect class="I"/><rect class="P"/><rect class="H"/><rect class="A"/><rect class="T"/><rect class="E"/><rect class="E"/><text class="sq" y="32" x="21 64 106 149 191 234 276 319 361 404 446 489 531 574 616 659 701 744">FNVTNCWICGKIPHATEE</text></g><g class="c" id="t16" transform="translate(1376,1334.6)"><rect class="E"/><rect class="V"/><rect class="R"/><rect class="Q"/><rect class="M"/><rect class="R"/><rect class="L"/><rect class="V"/><rect class="V"/><rect class="L"/><rect class="Q"/><rect class="N"/><rect class="R"/><rect class="A"/><rect class="S"/><rect class="L"/><rect class="D"/><rect class="Y"/><rect class="I"/><rect class="L"/><rect class="A"/><rect class="S"/><rect class="K"/><rect class="G"/><rect class="G"/><rect class="V"/><rect class="C"/><rect class="A"/><rect class="L"/><rect class="I"/><rect class="G"/><rect class="D"/><rect class="E"/><rect class="C"/><rect class="C"/><rect class="T"/><rect class="Y"/><rect class="I"/><rect class="S"/><rect class="D"/><rect class="K"/><text class="sq" y="32" x="21 64 106 149 191 234 276 319 361 404 446 489 531 574 616 659 701 744 786 829 871 914 956 999 1041 1084 1126 1169 1211 1254 1296 1339 1381 1424 1466 1509 1551 1594 1636 1679 1721">EVRQMRLVVLQNRASLDYILASKGGVCALIGDECCTYISDK</text></g></g>
<g id="r17"><text class="lb red" x="550" y="1407.2" textLength="194" lengthAdjust="spacingAndGlyphs">Marmot ERV</text><g class="c" id="s17" transform="translate(592,1380.7)"><rect class="V"/><rect class="P"/><rect class="T"/><rect class="S"/><rect class="Q"/><rect class="C"/><rect class="F"/><rect class="L"/><rect class="C"/><rect class="A"/><rect class="S"/><rect class="L"/><rect class="S"/><rect class="R"/><rect class="P"/><rect class="L"/><rect class="L"/><rect class="A"/><text class="sq" y="32" x="21 64 106 149 191 234 276 319 361 404 446 489 531 574 616 659 701 744">VPTSQCFLCASLSRPLLA</text></g><g class="c" id="t17" transform="translate(1376,1380.7)"><rect class="Q"/><rect class="V"/><rect class="T"/><rect class="S"/><rect class="L"/><rect class="A"/><rect class="Q"/><rect class="V"/><rect class="A"/><rect class="L"/><rect class="Q"/><rect class="N"/><rect class="R"/><rect class="R"/><rect class="A"/><rect class="I"/><rect class="D"/><rect class="L"/><rect class="L"/><rect class="T"/><rect class="A"/><rect class="E"/><rect class="I"/><rect class="E"/><rect class="G"/><rect class="T"/><rect class="C"/><rect class="L"/><rect class="F"/><rect class="L"/><rect class="R"/><rect class="E"/><rect class="E"/><rect class="C"/><rect class="C"/><rect class="Y"/><rect class="Y"/><rect class="V"/><rect class="N"/><rect class="E"/><rect class="T"/><text class="sq" y="32" x="21 64 106 149 191 234 276 319 361 404 446 489 531 574 616 659 701 744 786 829 871 914 956 999 1041 1084 1126 1169 1211 1254 1296 1339 1381 1424 1466 1509 1551 1594 1636 1679 1721">QVTSLAQVALQNRRAIDLLTAEIEGTCLFLREECCYYVNET</text></g></g>
<g id="r18"><text class="lb" x="550" y="1453.3" textLength="437" lengthAdjust="spacingAndGlyphs">Human T-cell leukemia virus</text><g class="c" id="s18" transform="translate(592,1426.8)"><rect class="z"/><rect class="z"/><rect class="z"/><rect class="z"/><rect class="T"/><rect class="C"/><rect class="I"/><rect class="V"/><rect class="C"/><rect class="I"/><rect class="D"/><rect class="R"/><rect class="A"/><rect class="S"/><text class="sq" y="32" x="21 64 106 149 191 234 276 319 361 404 446 489 531 574 616 659 701 744">----TCIVCIDRAS----</text></g><g class="c" id="t18" transform="translate(1376,1426.8)"><rect class="N"/><rect class="L"/><rect class="L"/><rect class="K"/><rect class="I"/><rect class="A"/><rect class="Q"/><rect class="Y"/><rect class="A"/><rect class="A"/><rect class="Q"/><rect class="N"/><rect class="R"/><rect class="R"/><rect class="G"/><rect class="L"/><rect class="D"/><rect class="L"/><rect class="L"/><rect class="F"/><rect class="W"/><rect class="E"/><rect class="Q"/><rect class="G"/><rect class="G"/><rect class="L"/><rect class="C"/><rect class="K"/><rect class="A"/><rect class="L"/><rect class="Q"/><rect class="E"/><rect class="Q"/><rect class="C"/><rect class="C"/><rect class="F"/><rect class="L"/><rect class="N"/><rect class="I"/><rect class="T"/><rect class="N"/><text class="sq" y="32" x="21 64 106 149 191 234 276 319 361 404 446 489 531 574 616 659 701 744 786 829 871 914 956 999 1041 1084 1126 1169 1211 1254 1296 1339 1381 1424 1466 1509 1551 1594 1636 1679 1721">NLLKIAQYAAQNRRGLDLLFWEQGGLCKALQEQCCFLNITN</text></g></g>
<g id="r19"><text class="lb" x="550" y="1499.4" textLength="327" lengthAdjust="spacingAndGlyphs">Feline leukemia virus</text><g class="c" id="s19" transform="translate(592,1472.9)"><rect class="N"/><rect class="K"/><rect class="T"/><rect class="K"/><rect class="D"/><rect class="C"/><rect class="W"/><rect class="L"/><rect class="C"/><rect class="L"/><rect class="V"/><rect class="S"/><rect class="R"/><rect class="P"/><rect class="P"/><rect class="Y"/><rect class="Y"/><rect class="E"/><text class="sq" y="32" x="21 64 106 149 191 234 276 319 361 404 446 489 531 574 616 659 701 744">NKTKDCWLCLVSRPPYYE</text></g><g class="c" id="t19" transform="translate(1376,1472.9)"><rect class="S"/><rect class="L"/><rect class="T"/><rect class="S"/><rect class="L"/><rect class="S"/><rect class="E"/><rect class="V"/><rect class="V"/><rect class="L"/><rect class="Q"/><rect class="N"/><rect class="R"/><rect class="R"/><rect class="G"/><rect class="L"/><rect class="D"/><rect class="I"/><rect class="L"/><rect class="F"/><rect class="L"/><rect class="Q"/><rect class="E"/><rect class="G"/><rect class="G"/><rect class="L"/><rect class="C"/><rect class="A"/><rect class="A"/><rect class="L"/><rect class="K"/><rect class="E"/><rect class="E"/><rect class="C"/><rect class="C"/><rect class="F"/><rect class="Y"/><rect class="A"/><rect class="D"/><rect class="H"/><rect class="T"/><text class="sq" y="32" x="21 64 106 149 191 234 276 319 361 404 446 489 531 574 616 659 701 744 786 829 871 914 956 999 1041 1084 1126 1169 1211 1254 1296 1339 1381 1424 1466 1509 1551 1594 1636 1679 1721">SLTSLSEVVLQNRRGLDILFLQEGGLCAALKEECCFYADHT</text></g></g>
<g id="r20"><text class="lb red" x="550" y="1545.5" textLength="478" lengthAdjust="spacingAndGlyphs">Porcine endogenous retrovirus</text><g class="c" id="s20" transform="translate(592,1519)"><rect class="D"/><rect class="A"/><rect class="T"/><rect class="S"/><rect class="S"/><rect class="C"/><rect class="W"/><rect class="L"/><rect class="C"/><rect class="L"/><rect class="S"/><rect class="S"/><rect class="G"/><rect class="P"/><rect class="P"/><rect class="Y"/><rect class="Y"/><rect class="E"/><text class="sq" y="32" x="21 64 106 149 191 234 276 319 361 404 446 489 531 574 616 659 701 744">DATSSCWLCLSSGPPYYE</text></g><g class="c" id="t20" transform="translate(1376,1519)"><rect class="S"/><rect class="L"/><rect class="T"/><rect class="S"/><rect class="L"/><rect class="S"/><rect class="E"/><rect class="V"/><rect class="V"/><rect class="L"/><rect class="Q"/><rect class="N"/><rect class="R"/><rect class="R"/><rect class="G"/><rect class="L"/><rect class="D"/><rect class="L"/><rect class="L"/><rect class="F"/><rect class="L"/><rect class="R"/><rect class="E"/><rect class="G"/><rect class="G"/><rect class="L"/><rect class="C"/><rect class="A"/><rect class="A"/><rect class="L"/><rect class="K"/><rect class="E"/><rect class="E"/><rect class="C"/><rect class="C"/><rect class="F"/><rect class="Y"/><rect class="V"/><rect class="D"/><rect class="H"/><rect class="S"/><text class="sq" y="32" x="21 64 106 149 191 234 276 319 361 404 446 489 531 574 616 659 701 744 786 829 871 914 956 999 1041 1084 1126 1169 1211 1254 1296 1339 1381 1424 1466 1509 1551 1594 1636 1679 1721">SLTSLSEVVLQNRRGLDLLFLREGGLCAALKEECCFYVDHS</text></g></g>
<g id="r21"><text class="lb red" x="550" y="1591.6" textLength="138" lengthAdjust="spacingAndGlyphs">Boar ERV</text><g class="c" id="s21" transform="translate(592,1565.1)"><rect class="E"/><rect class="A"/><rect class="T"/><rect class="S"/><rect class="S"/><rect class="C"/><rect class="W"/><rect class="L"/><rect class="C"/><rect class="L"/><rect class="A"/><rect class="S"/><rect class="G"/><rect class="P"/><rect class="P"/><rect class="Y"/><rect class="Y"/><rect class="E"/><text class="sq" y="32" x="21 64 106 149 191 234 276 319 361 404 446 489 531 574 616 659 701 744">EATSSCWLCLASGPPYYE</text></g><g class="c" id="t21" transform="translate(1376,1565.1)"><rect class="S"/><rect class="L"/><rect class="T"/><rect class="S"/><rect class="L"/><rect class="S"/><rect class="E"/><rect class="V"/><rect class="V"/><rect class="L"/><rect class="Q"/><rect class="N"/><rect class="R"/><rect class="R"/><rect class="G"/><rect class="L"/><rect class="D"/><rect class="L"/><rect class="L"/><rect class="F"/><rect class="L"/><rect class="K"/><rect class="E"/><rect class="G"/><rect class="G"/><rect class="L"/><rect class="C"/><rect class="V"/><rect class="A"/><rect class="L"/><rect class="K"/><rect class="E"/><rect class="E"/><rect class="C"/><rect class="C"/><rect class="F"/><rect class="Y"/><rect class="V"/><rect class="D"/><rect class="H"/><rect class="S"/><text class="sq" y="32" x="21 64 106 149 191 234 276 319 361 404 446 489 531 574 616 659 701 744 786 829 871 914 956 999 1041 1084 1126 1169 1211 1254 1296 1339 1381 1424 1466 1509 1551 1594 1636 1679 1721">SLTSLSEVVLQNRRGLDLLFLKEGGLCVALKEECCFYVDHS</text></g></g>
<g id="r22"><text class="lb" x="550" y="1637.7" textLength="455" lengthAdjust="spacingAndGlyphs">Friend murine leukemia virus</text><g class="c" id="s22" transform="translate(592,1611.2)"><rect class="D"/><rect class="K"/><rect class="T"/><rect class="Q"/><rect class="E"/><rect class="C"/><rect class="W"/><rect class="L"/><rect class="C"/><rect class="L"/><rect class="V"/><rect class="S"/><rect class="G"/><rect class="P"/><rect class="P"/><rect class="Y"/><rect class="Y"/><rect class="E"/><text class="sq" y="32" x="21 64 106 149 191 234 276 319 361 404 446 489 531 574 616 659 701 744">DKTQECWLCLVSGPPYYE</text></g><g class="c" id="t22" transform="translate(1376,1611.2)"><rect class="S"/><rect class="L"/><rect class="T"/><rect class="S"/><rect class="L"/><rect class="S"/><rect class="E"/><rect class="V"/><rect class="V"/><rect class="L"/><rect class="Q"/><rect class="N"/><rect class="R"/><rect class="R"/><rect class="G"/><rect class="L"/><rect class="D"/><rect class="L"/><rect class="L"/><rect class="F"/><rect class="L"/><rect class="K"/><rect class="E"/><rect class="G"/><rect class="G"/><rect class="L"/><rect class="C"/><rect class="A"/><rect class="A"/><rect class="L"/><rect class="K"/><rect class="E"/><rect class="E"/><rect class="C"/><rect class="C"/><rect class="F"/><rect class="Y"/><rect class="A"/><rect class="D"/><rect class="H"/><rect class="T"/><text class="sq" y="32" x="21 64 106 149 191 234 276 319 361 404 446 489 531 574 616 659 701 744 786 829 871 914 956 999 1041 1084 1126 1169 1211 1254 1296 1339 1381 1424 1466 1509 1551 1594 1636 1679 1721">SLTSLSEVVLQNRRGLDLLFLKEGGLCAALKEECCFYADHT</text></g></g>
<g id="r23"><text class="lb" x="550" y="1683.8" textLength="525" lengthAdjust="spacingAndGlyphs">Xenotropic murine leukemia virus</text><g class="c" id="s23" transform="translate(592,1657.3)"><rect class="D"/><rect class="R"/><rect class="T"/><rect class="Q"/><rect class="E"/><rect class="C"/><rect class="W"/><rect class="L"/><rect class="C"/><rect class="L"/><rect class="V"/><rect class="S"/><rect class="G"/><rect class="P"/><rect class="P"/><rect class="Y"/><rect class="Y"/><rect class="E"/><text class="sq" y="32" x="21 64 106 149 191 234 276 319 361 404 446 489 531 574 616 659 701 744">DRTQECWLCLVSGPPYYE</text></g><use href="#t22" y="46.1"/></g>
<g id="r24"><text class="lb" x="550" y="1729.9" textLength="244" lengthAdjust="spacingAndGlyphs">Koala retrovirus</text><g class="c" id="s24" transform="translate(592,1703.4)"><rect class="E"/><rect class="V"/><rect class="T"/><rect class="E"/><rect class="S"/><rect class="C"/><rect class="W"/><rect class="L"/><rect class="C"/><rect class="L"/><rect class="A"/><rect class="L"/><rect class="G"/><rect class="P"/><rect class="P"/><rect class="Y"/><rect class="Y"/><rect class="E"/><text class="sq" y="32" x="21 64 106 149 191 234 276 319 361 404 446 489 531 574 616 659 701 744">EVTESCWLCLALGPPYYE</text></g><g class="c" id="t24" transform="translate(1376,1703.4)"><rect class="S"/><rect class="L"/><rect class="T"/><rect class="S"/><rect class="L"/><rect class="S"/><rect class="E"/><rect class="V"/><rect class="V"/><rect class="L"/><rect class="Q"/><rect class="N"/><rect class="R"/><rect class="R"/><rect class="G"/><rect class="L"/><rect class="D"/><rect class="L"/><rect class="L"/><rect class="F"/><rect class="L"/><rect class="K"/><rect class="E"/><rect class="G"/><rect class="G"/><rect class="L"/><rect class="C"/><rect class="A"/><rect class="A"/><rect class="L"/><rect class="K"/><rect class="E"/><rect class="E"/><rect class="C"/><rect class="C"/><rect class="F"/><rect class="Y"/><rect class="V"/><rect class="D"/><rect class="H"/><rect class="S"/><text class="sq" y="32" x="21 64 106 149 191 234 276 319 361 404 446 489 531 574 616 659 701 744 786 829 871 914 956 999 1041 1084 1126 1169 1211 1254 1296 1339 1381 1424 1466 1509 1551 1594 1636 1679 1721">SLTSLSEVVLQNRRGLDLLFLKEGGLCAALKEECCFYVDHS</text></g></g>
<g id="r25"><text class="lb" x="550" y="1776" textLength="412" lengthAdjust="spacingAndGlyphs">Gibbon ape leukemia virus</text><g class="c" id="s25" transform="translate(592,1749.5)"><rect class="G"/><rect class="A"/><rect class="T"/><rect class="K"/><rect class="S"/><rect class="C"/><rect class="W"/><rect class="L"/><rect class="C"/><rect class="L"/><rect class="A"/><rect class="M"/><rect class="G"/><rect class="P"/><rect class="P"/><rect class="Y"/><rect class="Y"/><rect class="E"/><text class="sq" y="32" x="21 64 106 149 191 234 276 319 361 404 446 489 531 574 616 659 701 744">GATKSCWLCLAMGPPYYE</text></g><g class="c" id="t25" transform="translate(1376,1749.5)"><rect class="S"/><rect class="L"/><rect class="T"/><rect class="S"/><rect class="L"/><rect class="S"/><rect class="E"/><rect class="V"/><rect class="V"/><rect class="L"/><rect class="Q"/><rect class="N"/><rect class="R"/><rect class="R"/><rect class="G"/><rect class="L"/><rect class="D"/><rect class="L"/><rect class="L"/><rect class="F"/><rect class="L"/><rect class="K"/><rect class="E"/><rect class="G"/><rect class="G"/><rect class="L"/><rect class="C"/><rect class="A"/><rect class="A"/><rect class="L"/><rect class="K"/><rect class="E"/><rect class="E"/><rect class="C"/><rect class="C"/><rect class="F"/><rect class="Y"/><rect class="I"/><rect class="D"/><rect class="H"/><rect class="S"/><text class="sq" y="32" x="21 64 106 149 191 234 276 319 361 404 446 489 531 574 616 659 701 744 786 829 871 914 956 999 1041 1084 1126 1169 1211 1254 1296 1339 1381 1424 1466 1509 1551 1594 1636 1679 1721">SLTSLSEVVLQNRRGLDLLFLKEGGLCAALKEECCFYIDHS</text></g></g>
<g id="r26"><text class="lb red" x="550" y="1822.1" textLength="513" lengthAdjust="spacingAndGlyphs">Murine leukemia virus ERV (AKR)</text><use href="#s22" y="184.4"/><use href="#t22" y="184.4"/></g>
<g id="r27"><text class="lb" x="550" y="1868.2" textLength="257" lengthAdjust="spacingAndGlyphs">CKS-17 (Peptide)</text><g class="c" id="t27" transform="translate(1758.5,1841.7)"><rect class="L"/><rect class="Q"/><rect class="N"/><rect class="R"/><rect class="R"/><rect class="G"/><rect class="L"/><rect class="D"/><rect class="L"/><rect class="L"/><rect class="F"/><rect class="L"/><rect class="K"/><rect class="E"/><rect class="G"/><rect class="G"/><rect class="L"/><text class="sq" y="32" x="21 64 106 149 191 234 276 319 361 404 446 489 531 574 616 659 701">LQNRRGLDLLFLKEGGL</text></g></g>
</g>
<rect x="1369" y="228" width="23" height="1665" fill="#fff"/>
<g id="dividers"><path d="M1367 238V1886M1392 238V1886" stroke="#000" stroke-width="4"/></g>
<g id="connectors">
<path class="br" d="M609 195C609 160 611 148 624 148H974C984 148 989 142 989 100C989 142 994 148 1004 148H1355C1368 148 1370 160 1370 195"/>
<path class="br" d="M1397 195C1397 160 1399 148 1412 148H2244C2254 148 2259 142 2259 100C2259 142 2264 148 2274 148H3107C3120 148 3122 160 3122 195"/>
<path class="br" d="M812 2065C812 2090 814 2100 826 2100H876C884 2100 888 2106 888 2137C888 2106 892 2100 900 2100H950C962 2100 964 2090 964 2065"/>
<path class="br" d="M1764 1890C1764 1915 1766 1926 1778 1926H2103C2112 1926 2117 1932 2117 1960C2117 1932 2122 1926 2131 1926H2455C2467 1926 2469 1915 2469 1890"/>
<path class="br" d="M2497 2060C2497 2083 2499 2093 2511 2093H2664C2673 2093 2678 2099 2678 2127C2678 2099 2683 2093 2692 2093H2844C2856 2093 2858 2083 2858 2060"/>
<path class="pl" stroke-width="4" d="M957 1850V2034Q957 2051 974 2051H2831Q2848 2051 2848 2034V1850"/>
<path class="pl" stroke-width="4" d="M2512 1850V1903H2800V1850"/>
<path class="pl" stroke-width="7" d="M478 2045H827V1874"/>
<path class="pk" d="M827 1846L812 1881H842Z"/>
</g>
<g id="annotations">
<text class="pk" x="292" y="2011" font-size="46" text-anchor="middle" textLength="439" lengthAdjust="spacingAndGlyphs">Free Cysteine used in</text>
<text class="pk" x="292" y="2073" font-size="46" text-anchor="middle" textLength="277" lengthAdjust="spacingAndGlyphs">isomerization</text>
<text x="887" y="2190" font-size="50" text-anchor="middle" textLength="103" lengthAdjust="spacingAndGlyphs">CXXC</text>
<text x="2122" y="2015" font-size="48" text-anchor="middle" textLength="67" lengthAdjust="spacingAndGlyphs">ISD</text>
<text x="2616" y="2182" font-size="42">CX</text>
<text x="2678" y="2196" font-size="24">6</text>
<text x="2694" y="2182" font-size="42">CC</text>
<text class="pk" x="2658" y="1955" font-size="48" text-anchor="middle" textLength="269" lengthAdjust="spacingAndGlyphs"><tspan font-weight="bold">Intra</tspan>-subunit</text>
<text class="pk" x="2658" y="2015" font-size="48" text-anchor="middle" textLength="179" lengthAdjust="spacingAndGlyphs">S-S bond</text>
<text class="pk" x="1794" y="2113" font-size="48" text-anchor="middle" textLength="462" lengthAdjust="spacingAndGlyphs"><tspan font-weight="bold">Inter</tspan>-subunit S-S bond</text>
</g>
</svg>
